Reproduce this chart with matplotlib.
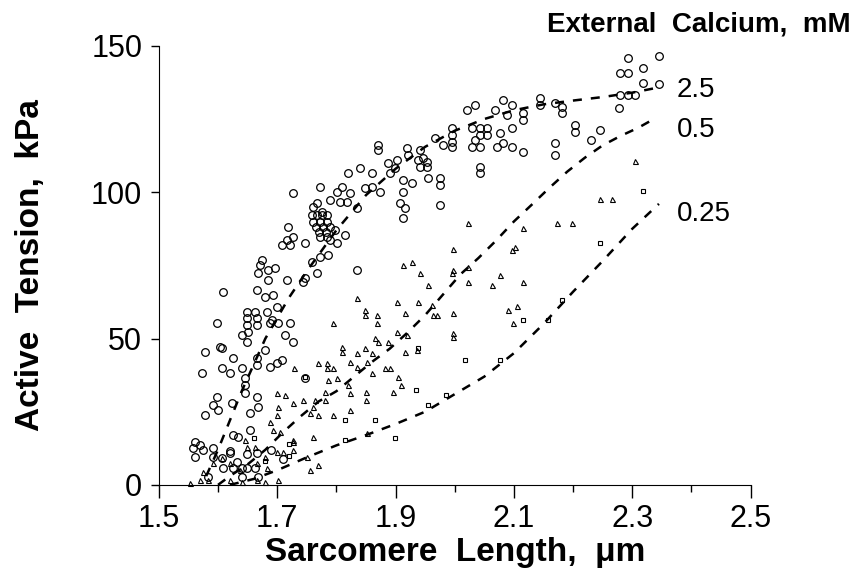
import matplotlib
matplotlib.use('Agg')
import matplotlib.pyplot as plt
from matplotlib.ticker import MultipleLocator

plt.rcParams['font.family'] = ['Liberation Sans', 'DejaVu Sans']

# 2.5 mM (circles)
c_x = [2.292, 2.345, 2.279, 2.292, 2.318, 2.318, 2.345, 2.279, 2.292, 2.304, 2.277, 2.245, 2.231, 2.203, 2.203,
       2.182, 2.182, 2.169, 2.144, 2.144, 2.169, 2.169, 2.115, 2.115, 2.081, 2.096, 2.068, 2.088, 2.020, 2.034,
       2.042, 2.042, 2.115, 2.029, 2.042, 2.054, 2.042, 2.054, 2.034, 2.029, 2.042, 2.071, 2.081, 2.096, 2.076,
       2.096, 1.995, 1.995, 1.995, 1.995, 1.980, 1.966, 1.946, 1.953, 1.954, 1.975, 1.975, 1.975,
       1.870, 1.870, 1.919, 1.921, 1.941, 1.938, 1.953, 1.941, 1.887, 1.902, 1.890, 1.899, 1.840, 1.819, 1.860,
       1.912, 1.927, 1.912, 1.907, 1.916, 1.912, 1.848, 1.860, 1.873, 1.772, 1.801, 1.810, 1.823, 1.818, 1.806,
       1.789, 1.834, 1.726, 1.760, 1.767, 1.775, 1.758, 1.767, 1.775, 1.784, 1.760, 1.772, 1.784, 1.765, 1.777,
       1.789, 1.770, 1.782, 1.772, 1.784, 1.797, 1.814, 1.801, 1.789, 1.718, 1.726, 1.716, 1.721, 1.708, 1.747,
       1.785, 1.772, 1.758, 1.767, 1.747, 1.834,
       1.674, 1.671, 1.667, 1.684, 1.696, 1.684, 1.608, 1.666, 1.679, 1.693, 1.716, 1.743, 1.598, 1.578, 1.606,
       1.573, 1.606, 1.620, 1.625, 1.640, 1.640, 1.649, 1.650, 1.649, 1.649, 1.649, 1.662, 1.666, 1.666, 1.699,
       1.682, 1.691, 1.688, 1.701, 1.721, 1.713, 1.726, 1.679, 1.666, 1.666, 1.687, 1.699, 1.708, 1.603, 1.747,
       1.645, 1.645, 1.645, 1.666, 1.667, 1.598, 1.591, 1.600, 1.578, 1.623, 1.654, 1.654, 1.625, 1.633, 1.561,
       1.569, 1.557, 1.574, 1.591, 1.561, 1.591, 1.606, 1.620, 1.632, 1.625, 1.640, 1.649, 1.662, 1.608, 1.667,
       1.640, 1.583, 1.620, 1.649, 1.666, 1.690, 1.710]
c_y = [145.9, 146.6, 140.8, 140.8, 142.5, 137.3, 137.0, 133.2, 133.2, 133.2, 128.8, 121.3, 117.9, 123.0, 120.6,
       129.1, 127.1, 130.5, 132.2, 129.8, 116.8, 112.7, 127.1, 124.7, 131.5, 129.8, 128.1, 126.4, 128.1, 129.8,
       108.6, 106.6, 113.8, 122.0, 122.0, 122.0, 119.6, 119.6, 117.9, 115.5, 115.5, 115.5, 116.8, 115.5, 120.3,
       122.0, 122.0, 119.6, 117.2, 115.5, 116.2, 118.6, 111.7, 110.4, 104.9, 104.9, 102.5, 95.7,
       116.2, 114.5, 115.1, 112.7, 114.5, 111.0, 108.6, 108.6, 110.0, 111.0, 106.6, 108.3, 108.3, 106.6, 106.6,
       104.2, 103.2, 100.1, 96.3, 94.6, 91.2, 101.5, 101.8, 100.1, 101.8, 100.1, 101.8, 99.8, 96.7, 96.7,
       97.4, 94.6, 99.8, 95.0, 96.3, 93.3, 92.2, 92.2, 92.2, 92.2, 89.9, 89.9, 89.9, 88.1, 88.1,
       88.1, 86.4, 86.4, 84.7, 84.7, 87.1, 85.4, 82.7, 83.7, 88.1, 84.7, 83.7, 82.0, 82.0, 82.7,
       78.6, 77.9, 76.2, 72.4, 70.7, 73.5,
       76.9, 75.2, 72.4, 73.5, 74.1, 70.0, 65.9, 66.6, 64.2, 65.0, 70.0, 69.4, 55.3, 45.4, 46.8,
       38.3, 40.0, 38.3, 43.4, 40.0, 51.2, 48.9, 52.3, 54.7, 57.0, 59.1, 59.1, 57.0, 54.7, 60.8,
       59.1, 56.4, 55.3, 55.3, 55.3, 51.2, 48.9, 46.1, 43.4, 41.0, 40.3, 41.7, 42.7, 47.0, 36.6,
       36.6, 34.2, 31.4, 30.1, 26.6, 30.1, 27.3, 25.6, 23.9, 28.0, 24.6, 18.8, 17.1, 16.4, 14.7,
       13.7, 12.6, 12.0, 12.6, 9.6, 9.6, 9.2, 10.9, 7.9, 5.8, 5.8, 5.8, 5.8, 5.8, 2.7,
       2.7, 2.7, 11.5, 10.5, 11.0, 12.0, 9.0]

# 0.5 mM (triangles)
t_x = [2.304, 2.245, 2.265, 2.115, 2.172, 2.198, 2.022, 1.997, 2.096, 2.101, 2.022, 1.997,
       1.995, 2.022, 2.063, 2.076, 2.115, 1.997, 1.997, 1.997, 2.090, 2.105, 2.098,
       1.834, 1.902, 1.916, 1.938, 1.848, 1.848, 1.868, 1.868, 1.794, 1.902, 1.865, 1.870, 1.887, 1.916,
       1.809, 1.809, 1.848, 1.834, 1.861, 1.823, 1.851, 1.882, 1.890, 1.769, 1.784, 1.784, 1.794, 1.728,
       1.834, 1.904, 1.861, 1.912, 1.927, 1.941, 1.954, 1.961, 1.970, 1.963, 1.919, 1.936,
       1.785, 1.801, 1.819, 1.823, 1.910, 1.895, 1.850, 1.850, 1.780, 1.780, 1.764, 1.743, 1.726, 1.760,
       1.755, 1.769, 1.794, 1.823, 1.851, 1.760, 1.726, 1.726, 1.750, 1.769, 1.755,
       1.699, 1.713, 1.701, 1.699, 1.687, 1.693, 1.704, 1.645, 1.649, 1.662, 1.679, 1.699, 1.709, 1.606,
       1.591, 1.620, 1.637, 1.574, 1.583, 1.569, 1.552, 1.620, 1.640, 1.666, 1.679, 1.701, 1.682, 1.666, 1.726]
t_y = [110.7, 97.7, 97.7, 87.8, 89.5, 89.5, 89.5, 80.6, 80.3, 81.3, 74.5, 73.5,
       72.4, 69.4, 68.3, 71.7, 69.4, 58.8, 51.9, 50.6, 59.8, 61.2, 55.3,
       63.9, 62.5, 58.8, 62.5, 59.8, 58.1, 58.1, 55.3, 55.3, 52.3, 50.2, 48.9, 48.9, 45.4,
       47.1, 45.4, 46.8, 45.1, 45.1, 42.0, 42.0, 40.0, 40.0, 41.7, 41.7, 40.0, 40.0, 40.0,
       40.3, 36.9, 38.3, 75.2, 76.2, 72.4, 68.3, 61.5, 58.0, 58.0, 51.2, 46.1,
       35.9, 36.6, 34.2, 31.4, 34.2, 31.8, 31.8, 29.0, 31.8, 29.0, 29.0, 29.0, 28.0, 26.6,
       24.6, 23.9, 23.9, 25.6, 17.8, 16.4, 15.4, 12.0, 9.6, 6.8, 5.1,
       31.4, 30.7, 26.6, 23.9, 21.5, 18.8, 18.1, 15.4, 13.0, 13.0, 9.6, 11.3, 11.3, 9.2,
       7.5, 7.5, 5.1, 4.4, 1.7, 1.7, 0.7, 1.7, 1.0, 1.7, 1.0, 1.7, 5.8, 7.5, 14.7]

# 0.25 mM (squares)
s_x = [2.318, 2.245, 2.182, 2.115, 2.157, 2.017, 2.076, 1.986, 1.938, 1.934, 1.954, 1.814, 1.865,
       1.899, 1.814, 1.747, 1.720, 1.720, 1.660, 1.680]
s_y = [100.4, 82.7, 63.2, 56.4, 56.4, 42.7, 42.7, 30.7, 46.8, 32.5, 27.3, 22.2, 22.2,
       16.0, 15.4, 36.9, 14.0, 10.0, 16.0, 8.0]

# dashed fit curves
f25_x = [1.58, 1.60, 1.62, 1.64, 1.66, 1.68, 1.70, 1.72, 1.75, 1.80, 1.85, 1.90, 1.95, 2.00, 2.05, 2.10,
         2.15, 2.20, 2.25, 2.30, 2.35]
f25_y = [3, 12, 22, 32, 41, 50, 57, 64, 73, 87, 99, 108, 115.5, 121, 125, 128, 130, 131.3, 132.5, 134, 136]
f05_x = [1.60, 1.62, 1.65, 1.68, 1.71, 1.74, 1.77, 1.80, 1.83, 1.86, 1.89, 1.92, 1.95, 1.98, 2.01, 2.04,
         2.07, 2.10, 2.13, 2.16, 2.19, 2.22, 2.25, 2.28, 2.31, 2.34]
f05_y = [0, 3, 7, 12, 18, 23.5, 28.5, 32, 37, 42, 46.5, 52, 58, 65, 72, 77.5,
         83.5, 90, 95.7, 101.5, 107, 111.8, 116, 119.2, 122, 125.4]
f025_x = [1.62, 1.66, 1.70, 1.75, 1.80, 1.85, 1.90, 1.95, 2.00, 2.05, 2.10, 2.15, 2.20, 2.25, 2.30, 2.345]
f025_y = [0, 2, 5, 9.4, 13.5, 17, 20.8, 25, 31, 37, 45, 55, 66, 76.5, 87.5, 96]

curve_labels = ['2.5', '0.5', '0.25']
label_y = [135, 121.3, 92.6]

fig = plt.figure(figsize=(8.54, 5.8), dpi=100)
ax = fig.add_axes([0.186, 0.164, 0.693, 0.757])

for fx, fy in [(f25_x, f25_y), (f05_x, f05_y), (f025_x, f025_y)]:
    ax.plot(fx, fy, color='black', lw=1.8, dashes=[3.6, 3.6], zorder=3)

ax.plot(c_x, c_y, ls='none', marker='o', ms=5.5, mfc='none', mec='black', mew=0.9, clip_on=False)
ax.plot(t_x, t_y, ls='none', marker='^', ms=3.6, mfc='none', mec='black', mew=0.8, clip_on=False)
ax.plot(s_x, s_y, ls='none', marker='s', ms=3.4, mfc='none', mec='black', mew=0.8, clip_on=False)

for lab, ly in zip(curve_labels, label_y):
    ax.text(2.375, ly, lab, fontsize=20, va='center', ha='left')

ax.set_xlim(1.5, 2.5)
ax.set_ylim(0, 150)
ax.set_xticks([1.5, 1.7, 1.9, 2.1, 2.3, 2.5])
ax.xaxis.set_minor_locator(MultipleLocator(0.1))
ax.set_yticks([0, 50, 100, 150])
ax.tick_params(axis='x', which='major', length=9, width=1, labelsize=22, pad=5)
ax.tick_params(axis='x', which='minor', length=5, width=1)
ax.tick_params(axis='y', which='major', length=6, width=1, labelsize=22, pad=6)
ax.spines['top'].set_visible(False)
ax.spines['right'].set_visible(False)

ax.set_xlabel('Sarcomere  Length,  \u03bcm', fontsize=24, fontweight='bold')
ax.set_ylabel('Active  Tension,  kPa', fontsize=24, fontweight='bold')
ax.xaxis.set_label_coords(0.5, -0.118)
ax.yaxis.set_label_coords(-0.19, 0.5)
fig.text(0.996, 0.958, 'External  Calcium,  mM', fontsize=20, fontweight='bold', ha='right', va='center')

fig.savefig('out.png', dpi=100)
